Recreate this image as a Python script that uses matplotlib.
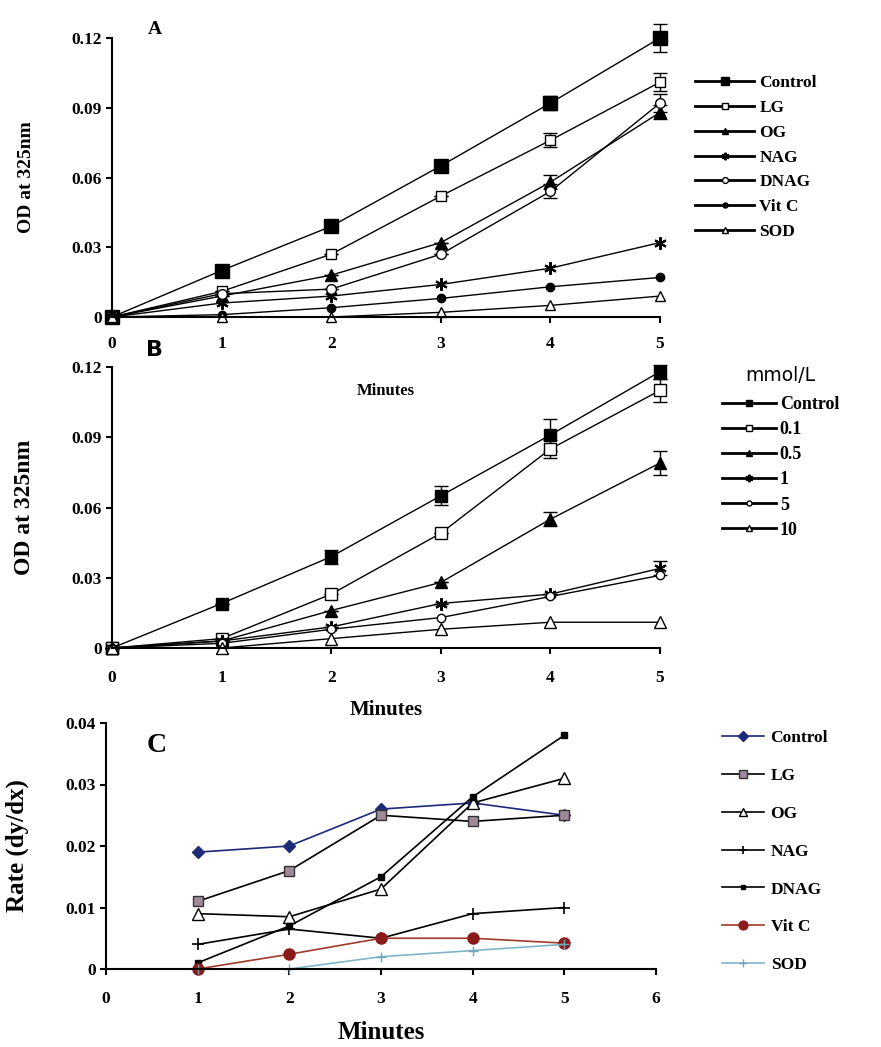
import matplotlib
matplotlib.use("Agg")
import matplotlib.pyplot as plt

plt.rcParams['font.family'] = ['Liberation Serif', 'DejaVu Serif']
plt.rcParams['font.weight'] = 'bold'

minutes = [0, 1, 2, 3, 4, 5]
minutes_c = [1, 2, 3, 4, 5]

# panel A - different compounds
a_labels = ['Control', 'LG', 'OG', 'NAG', 'DNAG', 'Vit C', 'SOD']
a_control = [0, 0.020, 0.039, 0.065, 0.092, 0.120]
a_lg = [0, 0.011, 0.027, 0.052, 0.076, 0.101]
a_og = [0, 0.009, 0.018, 0.032, 0.058, 0.088]
a_nag = [0, 0.006, 0.009, 0.014, 0.021, 0.032]
a_dnag = [0, 0.010, 0.012, 0.027, 0.054, 0.092]
a_vitc = [0, 0.001, 0.004, 0.008, 0.013, 0.017]
a_sod = [0, 0, 0, 0.002, 0.005, 0.009]
a_control_err = [0, 0, 0, 0, 0.003, 0.006]
a_lg_err = [0, 0, 0, 0, 0.003, 0.004]
a_og_err = [0, 0, 0, 0, 0.003, 0.003]
a_dnag_err = [0, 0, 0, 0, 0.003, 0.004]

# panel B - concentrations (mmol/L)
b_labels = ['Control', '0.1', '0.5', '1', '5', '10']
b_control = [0, 0.019, 0.039, 0.065, 0.091, 0.118]
b_01 = [0, 0.004, 0.023, 0.049, 0.085, 0.110]
b_05 = [0, 0.003, 0.016, 0.028, 0.055, 0.079]
b_1 = [0, 0.003, 0.009, 0.019, 0.023, 0.034]
b_5 = [0, 0.002, 0.008, 0.013, 0.022, 0.031]
b_10 = [0, 0.000, 0.004, 0.008, 0.011, 0.011]
b_control_err = [0, 0, 0.003, 0.004, 0.007, 0.003]
b_01_err = [0, 0, 0, 0, 0.004, 0.005]
b_05_err = [0, 0, 0, 0, 0.003, 0.005]
b_1_err = [0, 0, 0, 0, 0, 0.003]

# panel C - rates
c_labels = ['Control', 'LG', 'OG', 'NAG', 'DNAG', 'Vit C', 'SOD']
c_control = [0.019, 0.020, 0.026, 0.027, 0.025]
c_lg = [0.011, 0.016, 0.025, 0.024, 0.025]
c_og = [0.009, 0.0085, 0.013, 0.027, 0.031]
c_nag = [0.004, 0.0065, 0.005, 0.009, 0.010]
c_dnag = [0.001, 0.007, 0.015, 0.028, 0.038]
c_vitc = [0, 0.0024, 0.005, 0.005, 0.0042]
c_sod = [0, 0, 0.002, 0.003, 0.004]

W, H = 881, 1047
fig = plt.figure(figsize=(W / 100, H / 100), dpi=100)
fig.patch.set_facecolor('white')


def px_axes(left, right, top, bottom):
    ax = fig.add_axes([left / W, 1 - bottom / H, (right - left) / W, (bottom - top) / H])
    ax.patch.set_alpha(0)
    return ax


def style(ax):
    ax.spines['top'].set_visible(False)
    ax.spines['right'].set_visible(False)
    ax.spines['left'].set_linewidth(1.5)
    ax.spines['bottom'].set_linewidth(1.5)
    ax.tick_params(direction='out', length=4, width=1.5, labelsize=12.5)
    for lab in ax.get_xticklabels() + ax.get_yticklabels():
        lab.set_fontweight('bold')


asterisk = (6, 2, 0)

# ---------- A ----------
axA = px_axes(112, 660, 38, 317)
series_a = [
    (a_control, a_control_err, dict(marker='s', ms=10, mfc='black', mec='black')),
    (a_lg, a_lg_err, dict(marker='s', ms=7, mfc='white', mec='black')),
    (a_og, a_og_err, dict(marker='^', ms=8, mfc='black', mec='black')),
    (a_nag, None, dict(marker=asterisk, ms=9, mfc='black', mec='black', mew=1.5)),
    (a_dnag, a_dnag_err, dict(marker='o', ms=7, mfc='white', mec='black')),
    (a_vitc, None, dict(marker='o', ms=6, mfc='black', mec='black')),
    (a_sod, None, dict(marker='^', ms=7, mfc='white', mec='black')),
]
for (vals, err, kw), lab in zip(series_a, a_labels):
    if err is not None:
        axA.errorbar(minutes, vals, yerr=err, fmt='none', ecolor='black',
                     elinewidth=1, capsize=5, clip_on=False)
    axA.plot(minutes, vals, color='black', lw=1, label=lab, clip_on=False, **kw)
axA.set_xlim(0, 5)
axA.set_ylim(0, 0.12)
axA.set_xticks(range(6))
axA.set_yticks([0, 0.03, 0.06, 0.09, 0.12])
axA.set_yticklabels(['0', '0.03', '0.06', '0.09', '0.12'])
axA.tick_params(axis='x', pad=10)
style(axA)
axA.set_ylabel('OD at 325nm', fontsize=14, fontweight='bold')
axA.yaxis.set_label_coords(-0.14, 0.5)
axA.set_xlabel('Minutes', fontsize=12, fontweight='bold')
axA.xaxis.set_label_coords(0.5, -0.235)
fig.text(148 / W, 1 - 30 / H, 'A', fontsize=14, fontweight='bold', va='center')
legA = axA.legend(loc='upper left', bbox_to_anchor=(695 / W, 1 - 75 / H), bbox_transform=fig.transFigure,
                  frameon=False, fontsize=12.5, handlelength=3.4, handletextpad=0.3, labelspacing=0.5,
                  borderaxespad=0, borderpad=0, markerscale=0.6)
for ln in legA.get_lines():
    ln.set_linewidth(2)

# ---------- B ----------
axB = px_axes(112, 660, 367, 648)
series_b = [
    (b_control, b_control_err, dict(marker='s', ms=8, mfc='black', mec='black')),
    (b_01, b_01_err, dict(marker='s', ms=8, mfc='white', mec='black')),
    (b_05, b_05_err, dict(marker='^', ms=8, mfc='black', mec='black')),
    (b_1, b_1_err, dict(marker=asterisk, ms=9, mfc='black', mec='black', mew=1.5)),
    (b_5, None, dict(marker='o', ms=6, mfc='white', mec='black')),
    (b_10, None, dict(marker='^', ms=8, mfc='white', mec='black')),
]
for (vals, err, kw), lab in zip(series_b, b_labels):
    if err is not None:
        axB.errorbar(minutes, vals, yerr=err, fmt='none', ecolor='black',
                     elinewidth=1, capsize=5, clip_on=False)
    axB.plot(minutes, vals, color='black', lw=1, label=lab, clip_on=False, **kw)
axB.set_xlim(0, 5)
axB.set_ylim(0, 0.12)
axB.set_xticks(range(6))
axB.set_yticks([0, 0.03, 0.06, 0.09, 0.12])
axB.set_yticklabels(['0', '0.03', '0.06', '0.09', '0.12'])
axB.tick_params(axis='x', pad=12)
style(axB)
axB.set_ylabel('OD at 325nm', fontsize=17, fontweight='bold')
axB.yaxis.set_label_coords(-0.14, 0.5)
axB.set_xlabel('Minutes', fontsize=15, fontweight='bold', labelpad=10)
fig.text(146 / W, 1 - 350 / H, 'B', fontsize=16, family='DejaVu Sans', va='center')
legB = axB.legend(loc='upper left', bbox_to_anchor=(722 / W, 1 - 366 / H), bbox_transform=fig.transFigure,
                  frameon=False, fontsize=13, handlelength=3.0, handletextpad=0.2, labelspacing=0.45,
                  borderaxespad=0, borderpad=0, title='mmol/L', markerscale=0.6,
                  title_fontproperties={'family': 'DejaVu Sans', 'size': 13.5, 'weight': 'normal'})
legB._legend_box.sep = 8
for ln in legB.get_lines():
    ln.set_linewidth(2)

# ---------- C ----------
axC = px_axes(106, 656, 723, 969)
series_c = [
    (c_control, dict(color='#1c2a78', marker='D', ms=6, mfc='#1c2a78', mec='#1c2a78')),
    (c_lg, dict(color='black', marker='s', ms=7, mfc='#a08a9a', mec='#333333')),
    (c_og, dict(color='black', marker='^', ms=8, mfc='white', mec='black')),
    (c_nag, dict(color='black', marker='+', ms=8, mec='black', mew=1.2)),
    (c_dnag, dict(color='black', marker='s', ms=4, mfc='black', mec='black')),
    (c_vitc, dict(color='#a03a2a', marker='o', ms=8, mfc='#8b1a1a', mec='#8b1a1a')),
    (c_sod, dict(color='#7fb5c8', marker='+', ms=7, mec='#6fa5b8', mew=1)),
]
for (vals, kw), lab in zip(series_c, c_labels):
    axC.plot(minutes_c, vals, lw=1.2, label=lab, clip_on=False, **kw)
axC.set_xlim(0, 6)
axC.set_ylim(0, 0.04)
axC.set_xticks(range(7))
axC.set_yticks([0, 0.01, 0.02, 0.03, 0.04])
axC.set_yticklabels(['0', '0.01', '0.02', '0.03', '0.04'])
axC.tick_params(axis='x', pad=12)
style(axC)
axC.set_ylabel('Rate (dy/dx)', fontsize=18, fontweight='bold')
axC.yaxis.set_label_coords(-0.14, 0.5)
axC.set_xlabel('Minutes', fontsize=18, fontweight='bold', labelpad=10)
fig.text(147 / W, 1 - 745 / H, 'C', fontsize=20, va='center')
legC = axC.legend(loc='upper left', bbox_to_anchor=(722 / W, 1 - 730 / H), bbox_transform=fig.transFigure,
                  frameon=False, fontsize=12.5, handlelength=2.4, handletextpad=0.4, labelspacing=1.25,
                  borderaxespad=0, borderpad=0, markerscale=0.8)

fig.savefig('out.png', dpi=100)
